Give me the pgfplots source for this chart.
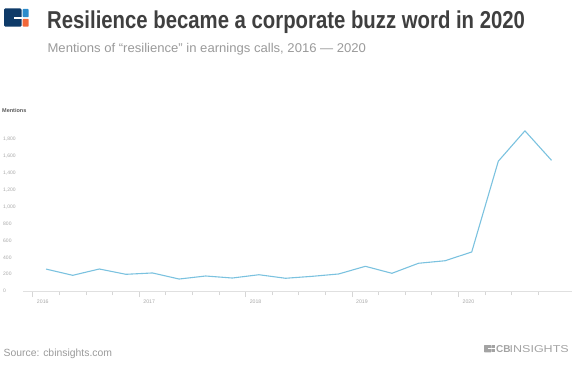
\documentclass[border=0pt]{standalone}
\usepackage{fontspec}
\setmainfont{Liberation Sans}
\usepackage{graphicx}
\usepackage{pgfplots}
\pgfplotsset{compat=1.18}
\definecolor{titlegray}{HTML}{3F3F3F}
\definecolor{subgray}{HTML}{9A9A9A}
\definecolor{tickgray}{HTML}{A8A8A8}
\definecolor{axisgray}{HTML}{E0E0E0}
\definecolor{ticklinegray}{HTML}{D6D6D6}
\definecolor{linecol}{HTML}{7BC2DF}
\definecolor{navy}{HTML}{0E3A68}
\definecolor{lblue}{HTML}{2D8CCB}
\definecolor{logoorange}{HTML}{F2683A}
\definecolor{cbgray}{HTML}{A3A3A3}
\begin{document}
\begin{tikzpicture}[x=1pt,y=1pt]
\path[use as bounding box] (0,0) rectangle (572,364);
% logo
\fill[navy, rounded corners=1.2pt] (4,355.5) rectangle (21.6,337.3);
\fill[white] (13.5,346.8) rectangle (21.7,345.2);
\fill[lblue, rounded corners=0.8pt] (22.7,355) rectangle (28.7,346.8);
\fill[logoorange, rounded corners=0.8pt] (22.7,345.2) rectangle (28.7,337.3);
% title
\node[anchor=base west, inner sep=0pt, text=titlegray] at (47,335.5)
  {\scalebox{0.833}[1]{\fontsize{24.4}{26}\selectfont\bfseries Resilience became a corporate buzz word in 2020}};
\node[anchor=base west, inner sep=0pt, text=subgray] at (47.4,311.8)
  {\scalebox{1.03}[1]{\fontsize{12.7}{14}\selectfont Mentions of “resilience” in earnings calls, 2016 — 2020}};
% footer
\node[anchor=base west, inner sep=0pt, text=subgray] at (3.4,7.7)
  {\fontsize{10.4}{12}\selectfont Source: cbinsights.com};
\fill[cbgray, rounded corners=0.6pt] (484,19) rectangle (491.5,11.7);
\fill[white] (488,15.6) rectangle (491.6,15.0);
\fill[cbgray] (492.2,19) rectangle (495,15.6);
\fill[cbgray] (492.2,15.0) rectangle (495,11.7);
\node[anchor=base west, inner sep=0pt, text=cbgray] at (496,11.7)
  {\fontsize{10}{12}\selectfont\bfseries CB};
\node[anchor=base west, inner sep=0pt, text=cbgray] at (509.5,11.7)
  {\scalebox{1.25}[1]{\fontsize{10}{12}\selectfont INSIGHTS}};
% Mentions label
\node[anchor=west, inner sep=0pt, text=black!65] at (2,253.3)
  {\fontsize{5.5}{6}\selectfont\bfseries Mentions};
\begin{axis}[
  at={(23pt,73pt)}, anchor=south west,
  scale only axis, width=549pt, height=168.6pt,
  xmin=-0.368, xmax=20.27, ymin=0, ymax=2000,
  axis x line*=bottom, axis y line*=left,
  y axis line style={draw=none},
  x axis line style={draw=axisgray, line width=0.9pt, -},
  ytick={0,200,...,1800},
  ytick style={draw=none},
  yticklabel style={anchor=west, xshift=-14pt, inner sep=0pt, font=\fontsize{5}{6}\selectfont, text=tickgray},
  xtick={0,4,8,12,16}, xticklabels={2016,2017,2018,2019,2020},
  minor xtick={1,2,3,5,6,7,9,10,11,13,14,15,17,18,19},
  tick align=outside, major tick length=6pt, minor tick length=4pt,
  xtick style={draw=ticklinegray, line width=0.7pt},
  xticklabel style={anchor=west, xshift=4pt, yshift=-4.7pt, inner sep=0pt, font=\fontsize{5.2}{6}\selectfont, text=tickgray},
  /pgf/number format/assume math mode=true,
  /pgf/number format/1000 sep={,},
  clip=false,
]
\addplot[color=linecol, line width=1.1pt, line join=round] coordinates {
(0.5,260) (1.5,186) (2.5,261) (3.5,198) (4.5,214) (5.5,142) (6.5,178) (7.5,154)
(8.5,193) (9.5,151) (10.5,174) (11.5,202) (12.5,293) (13.5,210) (14.5,329) (15.5,359)
(16.5,463) (17.5,1540) (18.5,1900) (19.5,1550)
};
\end{axis}
\end{tikzpicture}
\end{document}
